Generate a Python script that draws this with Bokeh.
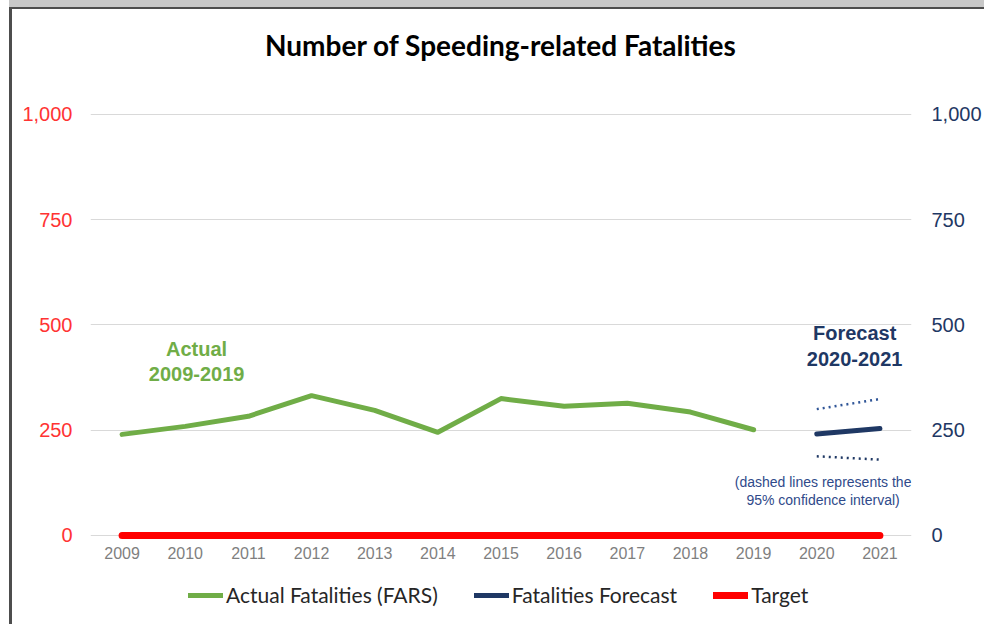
from bokeh.plotting import figure
from bokeh.models import (Range1d, FactorRange, LinearAxis, FixedTicker, NumeralTickFormatter,
                          Label, Legend, LegendItem)
from bokeh.embed import file_html
from bokeh.resources import INLINE

# ---------------- data ----------------
years = ["2009", "2010", "2011", "2012", "2013", "2014", "2015", "2016", "2017", "2018", "2019", "2020", "2021"]
actual_years = ["2009", "2010", "2011", "2012", "2013", "2014", "2015", "2016", "2017", "2018", "2019"]
actual_values = [240, 259, 283, 332, 297, 245, 325, 307, 314, 293, 251]
forecast_years = ["2020", "2021"]
forecast_values = [241, 254]
forecast_upper = [300, 324]
forecast_lower = [188, 180]
target_values = [0, 0, 0, 0, 0, 0, 0, 0, 0, 0, 0, 0, 0]
y_ticks = [0, 250, 500, 750, 1000]

GREEN = "#70AD47"
NAVY = "#1F3864"
RED = "#FF0000"

Y_LO, Y_HI = -183, 1223

p = figure(width=984, height=624, x_range=FactorRange(*years), y_range=Range1d(Y_LO, Y_HI),
           output_backend="svg", toolbar_location=None,
           min_border_left=90, min_border_right=72, min_border_top=20, min_border_bottom=12,
           styles={"background-color": "white",
                   "box-shadow": "inset 9px 0 0 0 #ffffff, inset 0 7px 0 0 #c8c8c8, inset 12px 9px 0 0 #4d4d4d"})
p.outline_line_color = None
p.background_fill_color = "white"
p.border_fill_color = None

# grid
p.xgrid.grid_line_color = None
p.ygrid.ticker = FixedTicker(ticks=y_ticks)
p.ygrid.grid_line_color = "#D9D9D9"
p.ygrid.grid_line_width = 1

# left axis
p.yaxis.ticker = FixedTicker(ticks=y_ticks)
p.yaxis.formatter = NumeralTickFormatter(format="0,0")
p.yaxis.axis_line_color = None
p.yaxis.major_tick_line_color = None
p.yaxis.major_tick_out = 0
p.yaxis.major_tick_in = 0
p.yaxis.minor_tick_line_color = None
p.yaxis.major_label_text_color = "#FF3333"
p.yaxis.major_label_text_font = "Liberation Sans"
p.yaxis.major_label_text_font_size = "20px"
p.yaxis.major_label_standoff = 18

# right axis
p.extra_y_ranges = {"right": Range1d(Y_LO, Y_HI)}
ra = LinearAxis(y_range_name="right", ticker=FixedTicker(ticks=y_ticks),
                formatter=NumeralTickFormatter(format="0,0"))
ra.axis_line_color = None
ra.major_tick_line_color = None
ra.major_tick_out = 0
ra.major_tick_in = 0
ra.minor_tick_line_color = None
ra.major_label_text_color = NAVY
ra.major_label_text_font = "Liberation Sans"
ra.major_label_text_font_size = "20px"
ra.major_label_standoff = 20
p.add_layout(ra, "right")

# x axis, drawn along the zero line
p.xaxis.fixed_location = 0
p.xaxis.axis_line_color = None
p.xaxis.major_tick_line_color = None
p.xaxis.major_tick_out = 0
p.xaxis.major_tick_in = 0
p.xaxis.minor_tick_line_color = None
p.xaxis.major_label_text_color = "#7F7F7F"
p.xaxis.major_label_text_font = "Liberation Sans"
p.xaxis.major_label_text_font_size = "16px"
p.xaxis.major_label_standoff = 12

# series
r_target = p.line(years, target_values, line_color=RED, line_width=7, line_cap="round")
r_actual = p.line(actual_years, actual_values, line_color=GREEN, line_width=5, line_cap="round", line_join="round")
p.line(forecast_years, forecast_upper, line_color="#2F5597", line_width=2.5, line_dash="2 4")
p.line(forecast_years, forecast_lower, line_color=NAVY, line_width=2.5, line_dash="2 4")
r_fc = p.line(forecast_years, forecast_values, line_color=NAVY, line_width=5, line_cap="round")

# annotations
p.add_layout(Label(x=6.5, y=1164, text="Number of Speeding-related Fatalities", text_align="center",
                   text_baseline="middle", text_font="Lato", text_font_style="bold",
                   text_font_size="28px", text_color="black"))
p.add_layout(Label(x=1.68, y=413, text="Actual\n2009-2019", text_align="center", text_baseline="middle",
                   text_font="Liberation Sans", text_font_style="bold", text_font_size="20px",
                   text_color=GREEN, text_line_height=1.15))
p.add_layout(Label(x=12.1, y=450, text="Forecast\n2020-2021", text_align="center", text_baseline="middle",
                   text_font="Liberation Sans", text_font_style="bold", text_font_size="20px",
                   text_color=NAVY, text_line_height=1.15))
p.add_layout(Label(x=11.6, y=105, text="(dashed lines represents the\n95% confidence interval)",
                   text_align="center", text_baseline="middle",
                   text_font="Liberation Sans", text_font_size="14px",
                   text_color="#2F4A8A", text_line_height=1.15))

legend = Legend(items=[LegendItem(label="Actual Fatalities (FARS)", renderers=[r_actual]),
                       LegendItem(label="Fatalities Forecast", renderers=[r_fc]),
                       LegendItem(label="Target", renderers=[r_target])],
                orientation="horizontal", location=(98, 5))
legend.label_text_font = "Lato"
legend.label_text_font_size = "21px"
legend.label_text_color = "#262626"
legend.glyph_width = 35
legend.label_standoff = 3
legend.spacing = 36
legend.padding = 4
legend.margin = 0
legend.border_line_color = None
legend.background_fill_alpha = 0
p.add_layout(legend)

open("out.html", "w").write(file_html(p, INLINE))
